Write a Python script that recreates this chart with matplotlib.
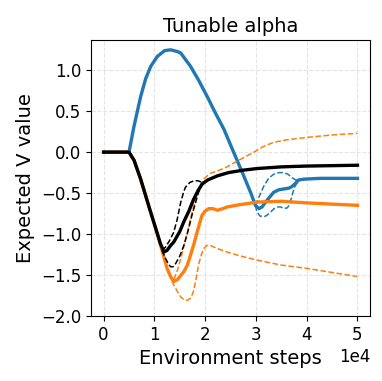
import matplotlib.pyplot as plt

# x values in units of 1e4 environment steps
blue_x = [0, 0.5, 0.6, 0.73, 0.83, 0.93, 1.06, 1.2, 1.32, 1.45, 1.52, 1.71, 1.87, 2.04, 2.2, 2.37, 2.56, 2.76, 2.9, 2.99,
          3.06, 3.12, 3.19, 3.27, 3.35, 3.45, 3.55, 3.65, 3.71, 3.78, 3.84, 3.95, 4.27, 5.0]
blue_y = [0, 0, 0.32, 0.68, 0.9, 1.05, 1.17, 1.24, 1.25, 1.23, 1.21, 1.05, 0.88, 0.68, 0.48, 0.28, 0.0, -0.29, -0.5, -0.65,
          -0.69, -0.67, -0.61, -0.55, -0.49, -0.46, -0.45, -0.44, -0.42, -0.38, -0.34, -0.33, -0.32, -0.32]
blue_hi_x = [2.99, 3.08, 3.16, 3.25, 3.35, 3.45, 3.55, 3.63, 3.71, 3.78, 3.84]
blue_hi_y = [-0.65, -0.52, -0.41, -0.32, -0.27, -0.25, -0.25, -0.27, -0.31, -0.34, -0.34]
blue_lo_x = [2.99, 3.02, 3.08, 3.16, 3.22, 3.29, 3.36, 3.42, 3.49, 3.55, 3.62, 3.67, 3.71, 3.76, 3.84]
blue_lo_y = [-0.65, -0.73, -0.78, -0.79, -0.77, -0.73, -0.69, -0.67, -0.67, -0.69, -0.68, -0.63, -0.53, -0.43, -0.34]

orange_x = [0, 0.5, 0.6, 0.73, 0.9, 1.05, 1.15, 1.25, 1.32, 1.38, 1.45, 1.58, 1.65, 1.71, 1.78, 1.84, 1.9, 1.94, 2.0,
            2.07, 2.15, 2.24, 2.35, 2.43, 2.7, 3.03, 3.5, 4.0, 5.0]
orange_y = [0, 0, -0.1, -0.33, -0.68, -0.98, -1.2, -1.42, -1.52, -1.58, -1.56, -1.46, -1.38, -1.26, -1.12, -0.98, -0.85,
            -0.77, -0.72, -0.69, -0.69, -0.71, -0.69, -0.67, -0.64, -0.61, -0.6, -0.62, -0.65]
orange_hi_x = [1.15, 1.25, 1.32, 1.38, 1.45, 1.52, 1.65, 1.73, 1.81, 1.9, 1.97, 2.04, 2.1, 2.24, 2.4, 2.57, 2.75, 2.96,
               3.15, 3.35, 3.6, 4.0, 4.5, 5.0]
orange_hi_y = [-1.2, -1.42, -1.52, -1.56, -1.45, -1.3, -0.98, -0.77, -0.57, -0.42, -0.33, -0.29, -0.26, -0.23, -0.19,
               -0.13, -0.07, 0.0, 0.07, 0.12, 0.15, 0.18, 0.21, 0.23]
orange_lo_x = [1.15, 1.25, 1.32, 1.38, 1.45, 1.52, 1.58, 1.65, 1.72, 1.77, 1.82, 1.87, 1.92, 1.97, 2.03, 2.1, 2.25, 2.43,
               2.7, 3.03, 3.5, 4.0, 4.5, 5.0]
orange_lo_y = [-1.2, -1.42, -1.54, -1.62, -1.7, -1.77, -1.8, -1.81, -1.78, -1.7, -1.55, -1.38, -1.26, -1.18, -1.14, -1.14,
               -1.18, -1.22, -1.27, -1.32, -1.38, -1.42, -1.47, -1.52]

black_x = [0, 0.5, 0.6, 0.73, 0.9, 1.05, 1.12, 1.19, 1.25, 1.32, 1.38, 1.5, 1.58, 1.68, 1.77, 1.86, 1.94, 2.05, 2.24,
           2.46, 2.75, 3.03, 3.5, 4.0, 5.0]
black_y = [0, 0, -0.1, -0.33, -0.68, -0.98, -1.12, -1.22, -1.2, -1.14, -1.1, -0.97, -0.85, -0.72, -0.58, -0.47, -0.39,
           -0.34, -0.29, -0.25, -0.22, -0.2, -0.18, -0.17, -0.16]
black_hi_x = [1.15, 1.22, 1.3, 1.38, 1.45, 1.52, 1.57, 1.61, 1.7, 1.78, 1.86, 1.94]
black_hi_y = [-1.2, -1.16, -1.08, -0.98, -0.82, -0.61, -0.5, -0.43, -0.37, -0.35, -0.35, -0.37]
black_lo_x = [1.15, 1.22, 1.28, 1.32, 1.37, 1.42, 1.5, 1.58, 1.66, 1.74, 1.81, 1.87, 1.92, 1.97]
black_lo_y = [-1.2, -1.3, -1.37, -1.4, -1.4, -1.36, -1.27, -1.14, -0.97, -0.77, -0.62, -0.49, -0.42, -0.38]

def steps(xs):
    return [v * 1e4 for v in xs]

fig = plt.figure(figsize=(3.82, 3.81), dpi=100)
ax = fig.add_axes([0.238, 0.171, 0.731, 0.724])

ax.plot(steps(blue_x), blue_y, color="tab:blue", lw=2.4)
ax.plot(steps(blue_hi_x), blue_hi_y, color="tab:blue", lw=1.1, ls="--")
ax.plot(steps(blue_lo_x), blue_lo_y, color="tab:blue", lw=1.1, ls="--")
ax.plot(steps(orange_x), orange_y, color="tab:orange", lw=2.4)
ax.plot(steps(orange_hi_x), orange_hi_y, color="tab:orange", lw=1.1, ls="--")
ax.plot(steps(orange_lo_x), orange_lo_y, color="tab:orange", lw=1.1, ls="--")
ax.plot(steps(black_x), black_y, color="black", lw=2.4)
ax.plot(steps(black_hi_x), black_hi_y, color="black", lw=1.1, ls="--")
ax.plot(steps(black_lo_x), black_lo_y, color="black", lw=1.1, ls="--")

ax.set_ylim(-2.0, 1.37)
ax.set_xlim(-2500, 52500)
ax.set_xticks([0, 10000, 20000, 30000, 40000, 50000])
ax.set_yticks([-2.0, -1.5, -1.0, -0.5, 0.0, 0.5, 1.0])
ax.ticklabel_format(axis="x", style="sci", scilimits=(0, 0))
ax.xaxis.get_offset_text().set_fontsize(12)
ax.tick_params(labelsize=12)
ax.grid(True, ls="--", color="lightgray", alpha=0.6)
ax.set_xlabel("Environment steps", fontsize=14)
ax.set_ylabel("Expected V value", fontsize=14)
ax.set_title("Tunable alpha", fontsize=14)

fig.savefig("out.png", dpi=100)
